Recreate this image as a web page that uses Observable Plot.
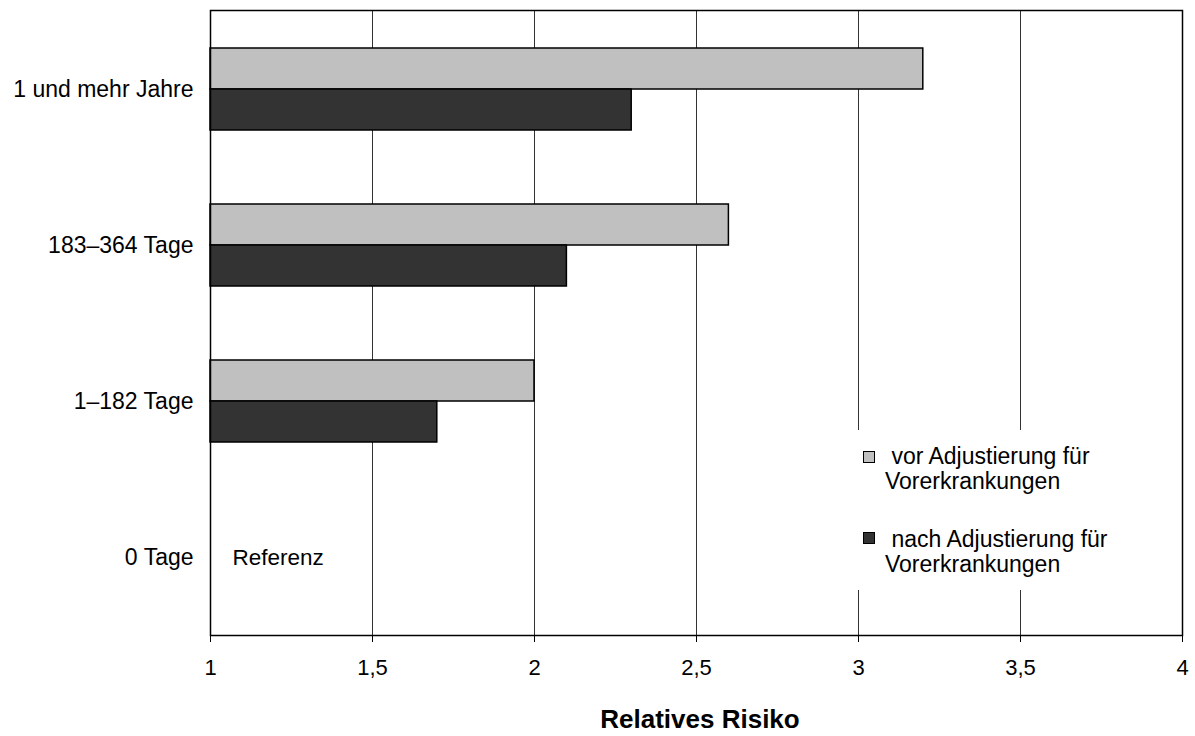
<!DOCTYPE html>
<html>
<head>
<meta charset="utf-8">
<script src="https://cdn.jsdelivr.net/npm/d3@7"></script>
<script src="https://cdn.jsdelivr.net/npm/@observablehq/plot@0.6"></script>
<style>
  body { margin: 0; background: #fff; font-family: "Liberation Sans", Arial, sans-serif; }
  #wrap { position: relative; width: 1195px; height: 736px; }
  #legend { position: absolute; left: 849px; top: 430px; width: 330px; height: 160px; background: #fff; font-size: 23px; color: #000; }
  .sw { position: absolute; width: 10px; height: 10px; border: 1px solid #000; }
  .lbl { position: absolute; line-height: 25px; white-space: nowrap; }
  #title { position: absolute; left: 210px; width: 980px; top: 704px; text-align: center; font-weight: bold; font-size: 26px; }
</style>
</head>
<body>
<div id="wrap">
  <div id="chart"></div>
  <div id="legend"></div>
  <div id="title">Relatives Risiko</div>
</div>
<script>
const categories = ["1 und mehr Jahre", "183–364 Tage", "1–182 Tage", "0 Tage"];
const vorValues = [3.2, 2.6, 2.0, null];
const nachValues = [2.3, 2.1, 1.7, null];
const seriesNames = ["vor Adjustierung für Vorerkrankungen", "nach Adjustierung für Vorerkrankungen"];
const seriesColors = ["#c0c0c0", "#333333"];
const xTicks = [1, 1.5, 2, 2.5, 3, 3.5, 4];
const gridTicks = [1.5, 2, 2.5, 3, 3.5];
const baseline = 1;
const referenceLabel = { cat: "0 Tage", text: "Referenz" };

const rows = categories.map((c, i) => ({ cat: c, vor: vorValues[i], nach: nachValues[i] }))
  .filter(d => d.vor != null);

const chart = Plot.plot({
  width: 1195,
  height: 690,
  marginTop: 10,
  marginBottom: 55,
  marginLeft: 210,
  marginRight: 13,
  style: { fontFamily: "'Liberation Sans', Arial, sans-serif", fontSize: "22px", color: "#000", background: "#fff" },
  x: { domain: [1, 4], ticks: xTicks, tickFormat: d => String(d).replace(".", ","), label: null },
  y: { domain: categories, paddingInner: 0.475, paddingOuter: 0.2375, label: null },
  marks: [
    Plot.ruleX(gridTicks, { stroke: "#333", strokeWidth: 1 }),
    Plot.barX(rows, { y: "cat", x1: () => baseline, x2: "vor", insetBottom: 41, fill: seriesColors[0], stroke: "#000", strokeWidth: 1.5 }),
    Plot.barX(rows, { y: "cat", x1: () => baseline, x2: "nach", insetTop: 41, fill: seriesColors[1], stroke: "#000", strokeWidth: 1.5 }),
    Plot.text([referenceLabel], { y: "cat", x: () => baseline, text: "text", textAnchor: "start", dx: 22, fontSize: 22.5, fill: "#000" }),
    Plot.frame({ stroke: "#000", strokeWidth: 1.5 }),
    Plot.axisX({ ticks: xTicks, tickFormat: d => String(d).replace(".", ","), tickSize: 7, tickPadding: 17, fontSize: 22, label: null }),
    Plot.axisY({ tickSize: 0, tickPadding: 17, fontSize: 23, label: null })
  ]
});
document.getElementById("chart").appendChild(chart);

const legend = document.getElementById("legend");
const items = [
  { top: 14, swTop: 21, text: ["\u00a0vor Adjustierung für", "Vorerkrankungen"] },
  { top: 97, swTop: 102, text: ["\u00a0nach Adjustierung für", "Vorerkrankungen"] }
];
items.forEach((it, i) => {
  const sw = document.createElement("div");
  sw.className = "sw";
  sw.style.left = "14px";
  sw.style.top = it.swTop + "px";
  sw.style.background = seriesColors[i];
  legend.appendChild(sw);
  const lbl = document.createElement("div");
  lbl.className = "lbl";
  lbl.style.left = "36px";
  lbl.style.top = it.top + "px";
  lbl.innerHTML = it.text[0] + "<br>" + it.text[1];
  lbl.title = seriesNames[i];
  legend.appendChild(lbl);
});
</script>
</body>
</html>
